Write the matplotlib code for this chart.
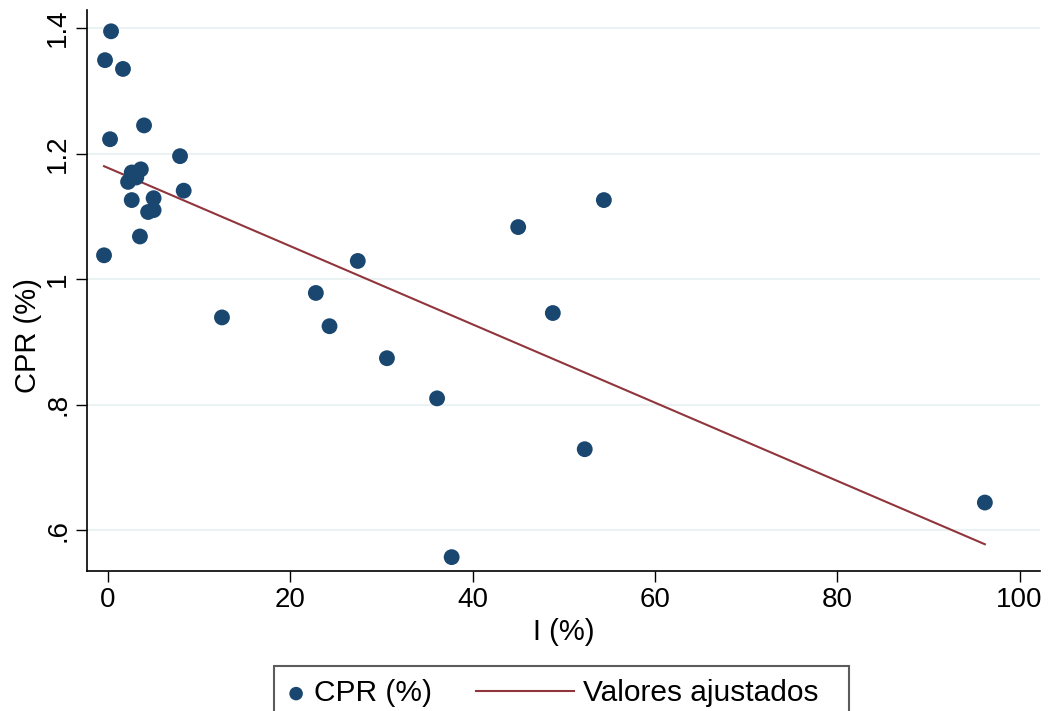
import matplotlib.pyplot as plt
import numpy as np
from matplotlib.legend_handler import HandlerLine2D, HandlerPathCollection
from matplotlib.lines import Line2D

plt.rcParams['font.family'] = ['Liberation Sans', 'DejaVu Sans']

# Datos
inflacion = [0.33, -0.33, 1.64, 3.95, 0.22, 7.9, 3.6, 2.6, 2.2, 3.1,
             8.3, 2.6, 5.0, 4.4, 5.0, 3.5, -0.44, 12.5, 22.8, 24.3,
             27.4, 30.6, 36.1, 37.7, 45.0, 48.8, 52.3, 54.4, 96.2]
cpr = [1.395, 1.349, 1.335, 1.245, 1.223, 1.196, 1.175, 1.170, 1.155, 1.162,
       1.141, 1.126, 1.129, 1.107, 1.110, 1.068, 1.038, 0.939, 0.978, 0.925,
       1.029, 0.874, 0.810, 0.557, 1.083, 0.946, 0.729, 1.126, 0.644]

yticks = [0.6, 0.8, 1.0, 1.2, 1.4]
ytick_labels = ['.6', '.8', '1', '1.2', '1.4']
xticks = [0, 20, 40, 60, 80, 100]

azul = '#1a476f'
granate = '#90353b'

# Recta ajustada por MCO
x = np.array(inflacion)
y = np.array(cpr)
b, a = np.polyfit(x, y, 1)
x_fit = np.array([x.min(), x.max()])
y_fit = a + b * x_fit

fig = plt.figure(figsize=(10.49, 7.11), dpi=100)
ax = fig.add_axes([0.083, 0.197, 0.908, 0.789])

for t in yticks:
    ax.axhline(t, color='#eaf2f3', lw=1.5, zorder=0)

sc = ax.scatter(x, y, s=130, color=azul, edgecolors='none', zorder=3)
ln, = ax.plot(x_fit, y_fit, color=granate, lw=1.5, zorder=2)

ax.set_xlim(-2.3, 102.2)
ax.set_ylim(0.535, 1.429)
ax.set_xticks(xticks)
ax.set_yticks(yticks)
ax.set_yticklabels(ytick_labels, rotation=90, va='center')
ax.tick_params(labelsize=20, length=8, width=1, direction='out')
ax.set_xlabel('I (%)', fontsize=21, labelpad=4)
ax.set_ylabel('CPR (%)', fontsize=21)
ax.yaxis.set_label_coords(-0.047, 0.42)

for s in ['top', 'right']:
    ax.spines[s].set_visible(False)
for s in ['left', 'bottom']:
    ax.spines[s].set_linewidth(1.2)


# Manejadores de leyenda al estilo Stata
class LineaLarga(HandlerLine2D):
    def get_xdata(self, legend, xdescent, ydescent, width, height, fontsize):
        return [-xdescent - 58, -xdescent + width], [-xdescent + 0.5 * width]


class MarcadorChico(HandlerPathCollection):
    def get_sizes(self, legend, orig_handle, xdescent, ydescent, width,
                  height, fontsize):
        return [95]


leg = fig.legend(handles=[sc, ln], labels=['CPR (%)', 'Valores ajustados  '],
                 ncol=2, loc='upper left',
                 bbox_to_anchor=(274 / 1049, 1 - 666 / 711),
                 borderaxespad=0, fontsize=21.5, frameon=True, fancybox=False,
                 edgecolor='#333333', handlelength=0.58, handletextpad=0.32,
                 columnspacing=4.15, borderpad=0.45,
                 handler_map={Line2D: LineaLarga(),
                              type(sc): MarcadorChico(numpoints=1)})
leg.get_frame().set_linewidth(1.5)

fig.savefig('out.png', dpi=100)
